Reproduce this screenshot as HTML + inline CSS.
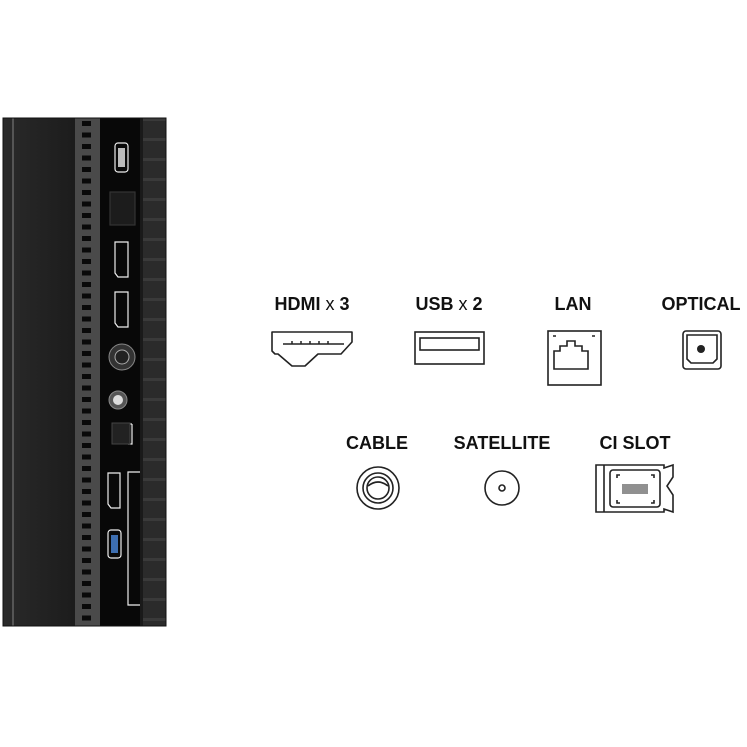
<!DOCTYPE html>
<html><head><style>
body{margin:0;width:747px;height:747px;background:#fff;overflow:hidden;position:relative;font-family:"Liberation Sans",sans-serif}
.l{position:absolute;font-weight:bold;font-size:18px;color:#111;transform:translateX(-50%);white-space:nowrap;line-height:1}
.l span{font-weight:normal}
</style></head><body>
<svg width="747" height="747" style="position:absolute;left:0;top:0">
<defs>
<linearGradient id="g" x1="0" x2="1"><stop offset="0" stop-color="#2a2a2a"/><stop offset="0.5" stop-color="#1a1a1a"/><stop offset="1" stop-color="#242424"/></linearGradient>
<pattern id="v" x="0" y="118" width="25" height="11.5" patternUnits="userSpaceOnUse"><rect width="25" height="11.5" fill="#4a4a4a"/><rect x="7" y="3" width="9" height="5" fill="#0a0a0a"/></pattern>
<pattern id="r" x="0" y="118" width="26" height="20" patternUnits="userSpaceOnUse"><rect width="26" height="20" fill="#2b2b2b"/><rect x="0" y="0" width="26" height="3" fill="#3a3a3a"/><rect x="10" width="3" height="20" fill="#1a1a1a"/></pattern>
</defs>
<rect x="3" y="118" width="163" height="508" fill="url(#g)"/>
<rect x="12" y="118" width="2" height="508" fill="#555"/>
<rect x="75" y="118" width="25" height="508" fill="url(#v)"/>
<rect x="100" y="118" width="40" height="508" fill="#080808"/>
<rect x="140" y="118" width="26" height="508" fill="url(#r)"/>
<rect x="3" y="118" width="163" height="508" fill="none" stroke="#111" stroke-width="1"/>
<g fill="none" stroke="#eee" stroke-width="1.2">
<rect x="115" y="143" width="13" height="29" rx="3"/>
<rect x="118" y="148" width="7" height="19" fill="#bbb" stroke="none"/>
<rect x="110" y="192" width="25" height="33" fill="#1c1c1c" stroke="#333"/>
<path d="M115 242h13v35h-10l-3-4z"/>
<path d="M115 292h13v35h-10l-3-4z"/>
<path d="M108 473h12v35h-9l-3-4z"/>
<rect x="108" y="530" width="13" height="28" rx="3"/>
<rect x="111" y="535" width="7" height="18" fill="#3d6eb0" stroke="none"/>
<path d="M140 472h-12v133h12"/>
<path d="M128 424h4m0 0v20h-4"/>
</g>
<circle cx="122" cy="357" r="13" fill="#333" stroke="#888"/>
<circle cx="122" cy="357" r="7" fill="#222" stroke="#aaa"/>
<circle cx="118" cy="400" r="9" fill="#555" stroke="#888"/>
<circle cx="118" cy="400" r="5" fill="#ddd"/>
<rect x="112" y="423" width="18" height="21" fill="#222" stroke="#444"/>
<g fill="none" stroke="#222" stroke-width="1.6">
<path d="M272 332h80v10l-11 12h-23l-13 12h-13l-14-12h-3l-3-3z" stroke-linejoin="round"/>
<path d="M283 344h61" stroke-width="1.5"/>
<rect x="415" y="332" width="69" height="32"/>
<rect x="420" y="338" width="59" height="12"/>
<rect x="548" y="331" width="53" height="54"/>
<path d="M554 369v-18h6v-5h7v-5h8v5h7v5h6v18z"/>
<path d="M553 336h3M592 336h3"/>
<rect x="683" y="331" width="38" height="38" rx="3"/>
<path d="M687 335h30v24l-4 4h-22l-4-4z"/>
<circle cx="378" cy="488" r="21"/>
<circle cx="378" cy="488" r="15"/>
<circle cx="378" cy="488" r="11"/>
<path d="M368 486q10-8 20 0"/>
<circle cx="502" cy="488" r="17"/>
<circle cx="502" cy="488" r="3"/>
<path d="M596 465h68v3l9-3v12l-6 9 6 9v17l-9-3v3h-68z"/>
<path d="M604 465v47"/>
<rect x="610" y="470" width="50" height="37" rx="3"/>
<path d="M617 478v-3h3M651 475h3v3M617 500v3h3M651 503h3v-3"/>
</g>
<circle cx="701" cy="349" r="4" fill="#222"/>
<g stroke="#222" stroke-width="1"><path d="M623 484v10M625 484v10M627 484v10M629 484v10M631 484v10M633 484v10M635 484v10M637 484v10M639 484v10M641 484v10M643 484v10M645 484v10M647 484v10"/></g>
<g stroke="#222" stroke-width="1.5"><path d="M292 341v3M301 341v3M310 341v3M319 341v3M328 341v3"/></g>
</svg>
<div class="l" style="left:312px;top:295px">HDMI <span>x</span> 3</div>
<div class="l" style="left:449px;top:295px">USB <span>x</span> 2</div>
<div class="l" style="left:573px;top:295px">LAN</div>
<div class="l" style="left:701px;top:295px">OPTICAL</div>
<div class="l" style="left:377px;top:434px">CABLE</div>
<div class="l" style="left:502px;top:434px">SATELLITE</div>
<div class="l" style="left:635px;top:434px">CI SLOT</div>
</body></html>
